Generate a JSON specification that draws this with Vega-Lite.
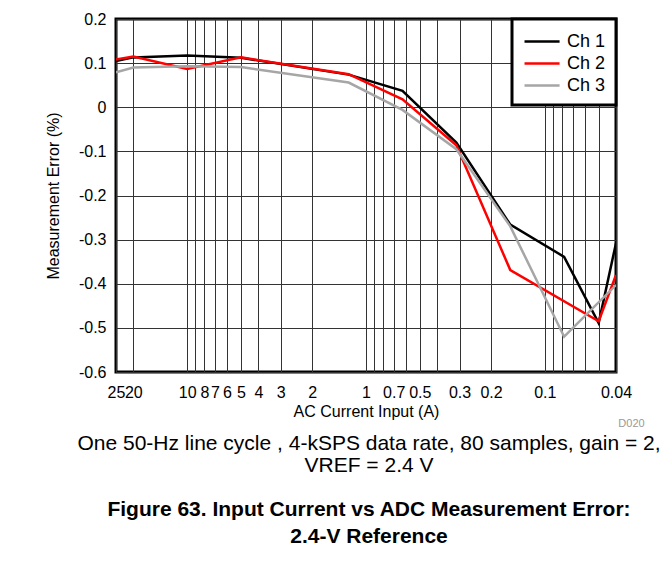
{
  "$schema": "https://vega.github.io/schema/vega-lite/v6.json",
  "width": 500,
  "height": 353,
  "autosize": "none",
  "padding": {"left": 116, "top": 19, "right": 55, "bottom": 197},
  "background": "white",
  "config": {
    "view": {"stroke": "black", "strokeWidth": 3},
    "font": "Liberation Sans",
    "axis": {
      "labelFont": "Liberation Sans",
      "labelFontSize": 16,
      "labelColor": "black",
      "titleFont": "Liberation Sans",
      "titleFontSize": 16,
      "titleFontWeight": "normal",
      "titleColor": "black",
      "gridColor": "#333333",
      "gridOpacity": 1,
      "gridWidth": 1,
      "ticks": false,
      "domain": false
    }
  },
  "title": {
    "text": ["One 50-Hz line cycle , 4-kSPS data rate, 80 samples, gain = 2,", "VREF = 2.4 V"],
    "subtitle": ["Figure 63.  Input Current vs ADC Measurement Error:", "2.4-V Reference"],
    "orient": "bottom",
    "anchor": "middle",
    "offset": 5,
    "dx": 3,
    "font": "Liberation Sans",
    "fontSize": 21,
    "fontWeight": "normal",
    "color": "black",
    "lineHeight": 22,
    "subtitleFont": "Liberation Sans",
    "subtitleFontSize": 21,
    "subtitleFontWeight": "bold",
    "subtitleColor": "black",
    "subtitleLineHeight": 27,
    "subtitlePadding": 23
  },
  "data": {
    "values": [
      {"I": 25, "err": 0.105, "ch": "Ch 1"},
      {"I": 20, "err": 0.113, "ch": "Ch 1"},
      {"I": 10, "err": 0.117, "ch": "Ch 1"},
      {"I": 5, "err": 0.112, "ch": "Ch 1"},
      {"I": 1.25, "err": 0.074, "ch": "Ch 1"},
      {"I": 0.625, "err": 0.037, "ch": "Ch 1"},
      {"I": 0.3125, "err": -0.08, "ch": "Ch 1"},
      {"I": 0.156, "err": -0.266, "ch": "Ch 1"},
      {"I": 0.078, "err": -0.339, "ch": "Ch 1"},
      {"I": 0.05, "err": -0.489, "ch": "Ch 1"},
      {"I": 0.04, "err": -0.308, "ch": "Ch 1"},
      {"I": 25, "err": 0.108, "ch": "Ch 2"},
      {"I": 20, "err": 0.115, "ch": "Ch 2"},
      {"I": 10, "err": 0.087, "ch": "Ch 2"},
      {"I": 5, "err": 0.113, "ch": "Ch 2"},
      {"I": 1.25, "err": 0.075, "ch": "Ch 2"},
      {"I": 0.625, "err": 0.018, "ch": "Ch 2"},
      {"I": 0.3125, "err": -0.086, "ch": "Ch 2"},
      {"I": 0.156, "err": -0.369, "ch": "Ch 2"},
      {"I": 0.05, "err": -0.485, "ch": "Ch 2"},
      {"I": 0.04, "err": -0.38, "ch": "Ch 2"},
      {"I": 25, "err": 0.079, "ch": "Ch 3"},
      {"I": 20, "err": 0.09, "ch": "Ch 3"},
      {"I": 10, "err": 0.093, "ch": "Ch 3"},
      {"I": 5, "err": 0.091, "ch": "Ch 3"},
      {"I": 1.25, "err": 0.056, "ch": "Ch 3"},
      {"I": 0.625, "err": -0.006, "ch": "Ch 3"},
      {"I": 0.3125, "err": -0.095, "ch": "Ch 3"},
      {"I": 0.156, "err": -0.27, "ch": "Ch 3"},
      {"I": 0.078, "err": -0.52, "ch": "Ch 3"},
      {"I": 0.04, "err": -0.403, "ch": "Ch 3"}
    ]
  },
  "layer": [
    {
      "mark": {"type": "line", "strokeWidth": 2.5, "clip": true},
      "encoding": {
        "x": {
          "field": "I",
          "type": "quantitative",
          "scale": {"type": "log", "domain": [0.04, 25], "reverse": true, "nice": false},
          "axis": {
            "values": [25, 20, 10, 9, 8, 7, 6, 5, 4, 3, 2, 1, 0.9, 0.8, 0.7, 0.6, 0.5, 0.4, 0.3, 0.2, 0.1, 0.09, 0.08, 0.07, 0.06, 0.05, 0.04],
            "labelExpr": "indexof([25, 20, 10, 8, 7, 6, 5, 4, 3, 2, 1, 0.7, 0.5, 0.3, 0.2, 0.1, 0.04], datum.value) >= 0 ? toString(datum.value) : ''",
            "labelOverlap": false,
            "labelFlush": false,
            "labelBound": false,
            "labelPadding": 12,
            "title": "AC Current Input (A)",
            "titlePadding": 3
          }
        },
        "y": {
          "field": "err",
          "type": "quantitative",
          "scale": {"domain": [-0.6, 0.2], "nice": false, "zero": false},
          "axis": {
            "values": [-0.6, -0.5, -0.4, -0.3, -0.2, -0.1, 0, 0.1, 0.2],
            "labelExpr": "replace(format(datum.value, '.1~f'), '−', '-')",
            "labelPadding": 10,
            "title": "Measurement Error (%)",
            "titlePadding": 17
          }
        },
        "color": {
          "field": "ch",
          "type": "nominal",
          "scale": {"domain": ["Ch 1", "Ch 2", "Ch 3"], "range": ["#000000", "#ff0000", "#a6a6a6"]},
          "legend": {
            "title": null,
            "orient": "top-right",
            "offset": 0,
            "padding": 10,
            "strokeColor": "black",
            "fillColor": "white",
            "symbolType": "M-1.6,0H1.6",
            "symbolSize": 480,
            "symbolStrokeWidth": 2.5,
            "symbolOffset": 7.55,
            "labelFont": "Liberation Sans",
            "labelFontSize": 18,
            "labelColor": "black",
            "labelOffset": 12.55,
            "rowPadding": -1,
            "encode": {"legend": {"update": {"strokeWidth": {"value": 3}}}}
          }
        }
      }
    },
    {
      "mark": {"type": "line", "opacity": 0},
      "encoding": {
        "x": {"field": "I", "type": "quantitative"},
        "y": {
          "field": "err",
          "type": "quantitative",
          "axis": {
            "orient": "right",
            "grid": false,
            "labels": false,
            "ticks": false,
            "domain": false,
            "title": "D020",
            "titleAngle": 0,
            "titleAlign": "center",
            "titleBaseline": "top",
            "titleX": 15,
            "titleY": 398,
            "titleFontSize": 11,
            "titleColor": "#999999"
          }
        }
      }
    }
  ],
  "resolve": {"axis": {"y": "independent"}}
}
